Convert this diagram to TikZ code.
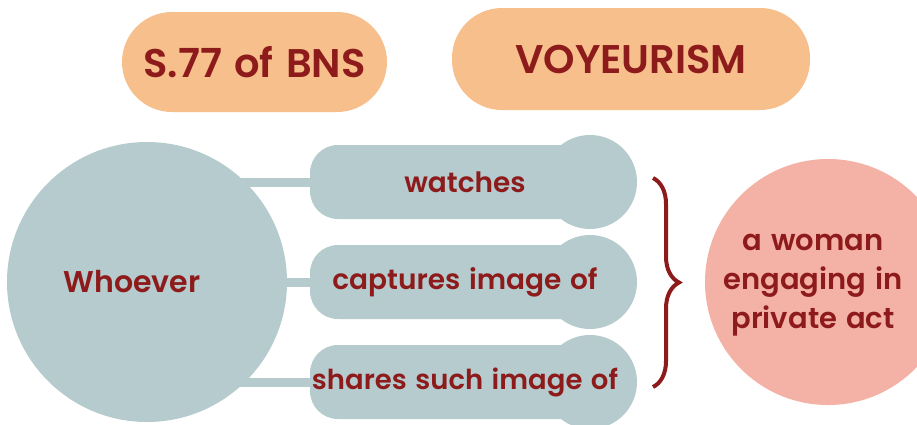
\documentclass[tikz,border=0pt]{standalone}
\usepackage{fontspec}
\setmainfont{Poppins}[BoldFont={Poppins SemiBold},WordSpace=1.3]
\usetikzlibrary{decorations.pathreplacing}
\definecolor{peach}{HTML}{F7BF8B}
\definecolor{slate}{HTML}{B5CBCD}
\definecolor{rose}{HTML}{F4B1A5}
\definecolor{maroon}{HTML}{8E1B1B}
\pgfdeclarelayer{bg}
\pgfsetlayers{bg,main}
\begin{document}
\begin{tikzpicture}[x=1pt,y=-1pt,
  lbl/.style={text=maroon,font=\bfseries\fontsize{28}{34}\selectfont},
  toppill/.style={fill=peach,rounded corners=50pt,minimum height=100pt,inner sep=0pt,text=maroon,font=\bfseries\fontsize{40}{48}\selectfont},
  pill/.style={fill=slate,rounded corners=28pt,minimum width=310pt,minimum height=74pt,inner sep=0pt,lbl},
  knob/.style={circle,fill=slate,minimum size=94pt,inner sep=0pt},
  link/.style={draw=slate,line width=9pt},
  bracestyle/.style={draw=maroon,line width=4pt,decorate,decoration={brace,amplitude=26pt}}]
\useasboundingbox (0,0) rectangle (917,424);
\clip (0,0) rectangle (917,424);
% top pills
\node[toppill,minimum width=265pt] (sec) at (254.5,62) {S.77 of BNS};
\node[toppill,minimum width=358pt,minimum height=102pt] (voy) at (631,59) {VOYEURISM};
% whoever
\node[circle,fill=slate,minimum size=280pt,inner sep=0pt] (who) at (147,282) {};
\node[lbl,font=\bfseries\fontsize{30}{34}\selectfont] (whotext) at (132,282) {Whoever};
% action pills
\node[knob] (k1) at (590,182) {};
\node[knob] (k2) at (590,282) {};
\node[knob] (k3) at (590,382) {};
\node[pill] (p1) at (465,182) {watches};
\node[pill] (p2) at (465,282) {captures image of};
\node[pill,font=\bfseries\fontsize{27.5}{34}\selectfont] (p3) at (465,382) {shares such image of};
\begin{pgfonlayer}{bg}
\draw[link] (who.center |- p1.west) -- (p1.west);
\draw[link] (who.center |- p2.west) -- (p2.west);
\draw[link] (who.center |- p3.west) -- (p3.west);
\end{pgfonlayer}
% brace
\coordinate (btop) at (653,178);
\coordinate (bbot) at (653,387);
\draw[bracestyle] (btop) -- (bbot);
% woman
\node[circle,fill=rose,minimum size=246pt,inner sep=0pt] (woman) at (828,282) {};
\node[lbl,align=center,font=\bfseries\fontsize{29}{39}\selectfont] (wtext) at (813,285) {a woman\\engaging in\\private act};
\end{tikzpicture}
\end{document}
